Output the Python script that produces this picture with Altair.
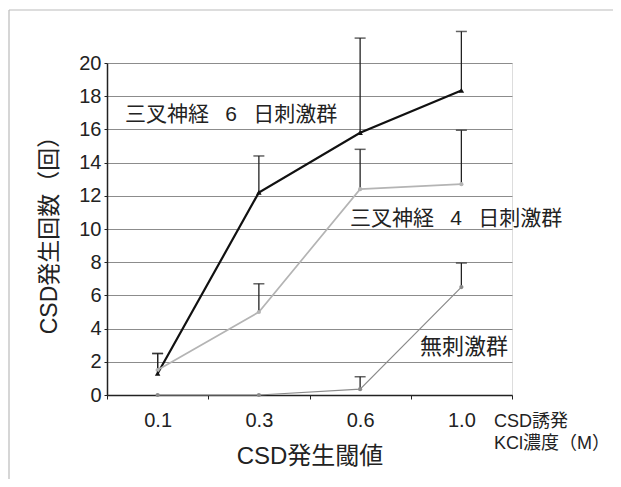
import altair as alt
import pandas as pd

categories = ["0.1", "0.3", "0.6", "1.0"]
series_names = ["三叉神経6日刺激群", "三叉神経4日刺激群", "無刺激群"]
mean_6day = [1.3, 12.2, 15.8, 18.35]
upper_6day = [2.5, 14.4, 21.5, 21.9]
mean_4day = [1.5, 5.0, 12.4, 12.7]
upper_4day = [2.5, 6.7, 14.8, 15.95]
mean_none = [0.0, 0.0, 0.35, 6.5]
upper_none = [None, None, 1.1, 7.95]
y_ticks = list(range(0, 21, 2))

FONT = "Liberation Sans, Noto Sans CJK JP"
SP = "\u2002\u00a0"

rows = []
for name, means, ups in [
    (series_names[0], mean_6day, upper_6day),
    (series_names[1], mean_4day, upper_4day),
    (series_names[2], mean_none, upper_none),
]:
    for c, m, u in zip(categories, means, ups):
        rows.append({"conc": c, "group": name, "mean": m, "upper": u})
df = pd.DataFrame(rows)

color_scale = alt.Scale(domain=series_names, range=["#111111", "#b4b4b4", "#8a8a8a"])
width_scale = alt.Scale(domain=series_names, range=[2.2, 1.2, 2.0])

x_axis = alt.Axis(
    title="CSD発生閾値",
    titleFont=FONT,
    titleFontSize=24,
    titleFontWeight="normal",
    titleColor="#222",
    titlePadding=14,
    labelFont=FONT,
    labelFontSize=20,
    labelColor="#222",
    labelPadding=11,
    labelAngle=0,
    tickBand="extent",
    tickSize=4,
    tickColor="#222",
    domainColor="#222",
    domainWidth=1.5,
    grid=False,
)
x_scale = alt.Scale(type="band", paddingInner=0, paddingOuter=0)


def X():
    return alt.X("conc:N", sort=categories, scale=x_scale, axis=x_axis)


y_scale = alt.Scale(domain=[0, 20], nice=False)
y_axis = alt.Axis(
    title="CSD発生回数（回）",
    titleFont=FONT,
    titleFontSize=23,
    titleFontWeight="normal",
    titleColor="#222",
    titlePadding=17,
    labelFont=FONT,
    labelFontSize=20,
    labelColor="#222",
    labelPadding=3,
    labelOverlap=False,
    values=y_ticks,
    tickCount=11,
    tickSize=3,
    tickColor="#222",
    domainColor="#222",
    domainWidth=1.5,
    grid=True,
    gridColor="#8c8c8c",
    gridWidth=1,
)


def Y(field):
    return alt.Y(field, scale=y_scale, axis=y_axis)


base = alt.Chart(df)

lines = base.mark_line().encode(
    x=X(),
    y=Y("mean:Q"),
    color=alt.Color("group:N", scale=color_scale, legend=None),
    strokeWidth=alt.StrokeWidth("group:N", scale=width_scale, legend=None),
    detail="group:N",
)

err_df = base.transform_filter("datum.upper != null")

err_rules = err_df.mark_rule(color="#222", strokeWidth=1.3).encode(
    x=X(), y=Y("mean:Q"), y2="upper:Q"
)
err_caps = err_df.mark_tick(color="#222", thickness=1.5, size=11).encode(
    x=X(), y=Y("upper:Q")
)

pts_6 = base.transform_filter(alt.datum.group == series_names[0]).mark_point(
    shape="triangle-up", filled=True, size=30, color="#111", opacity=1
).encode(x=X(), y=Y("mean:Q"))
pts_other = base.transform_filter(alt.datum.group != series_names[0]).mark_point(
    shape="circle", filled=True, size=18, opacity=1
).encode(
    x=X(),
    y=Y("mean:Q"),
    color=alt.Color("group:N", scale=color_scale, legend=None),
)

label_df = pd.DataFrame(
    {
        "text": ["三叉神経" + SP + "6" + SP + "日刺激群", "三叉神経" + SP + "4" + SP + "日刺激群"],
        "px": [18, 243],
        "mean": [16.85, 10.6],
    }
)
labels = alt.Chart(label_df).mark_text(
    align="left", baseline="middle", font=FONT, fontSize=21, color="#222"
).encode(x=alt.X("px:Q", scale=None), y=Y("mean:Q"), text="text:N")

label2_df = pd.DataFrame({"text": ["無刺激群"], "px": [313], "mean": [2.9]})
labels2 = alt.Chart(label2_df).mark_text(
    align="left", baseline="middle", font=FONT, fontSize=22, color="#222"
).encode(x=alt.X("px:Q", scale=None), y=Y("mean:Q"), text="text:N")

note_df = pd.DataFrame({"text": ["CSD誘発", "KCl濃度（M）"], "py": [359, 381]})
note = alt.Chart(note_df).mark_text(
    align="left", baseline="middle", font=FONT, fontSize=18, color="#222"
).encode(x=alt.value(387), y=alt.Y("py:Q", scale=None), text="text:N")

frame_top = alt.Chart(pd.DataFrame({"a": [0]})).mark_rule(color="#bbbbbb", strokeWidth=1.2).encode(
    x=alt.value(-98), x2=alt.value(520), y=alt.value(-53)
)
frame_left = alt.Chart(pd.DataFrame({"a": [0]})).mark_rule(color="#bbbbbb", strokeWidth=1.2).encode(
    x=alt.value(-98), y=alt.value(-53), y2=alt.value(420)
)

chart = (
    alt.layer(lines, err_rules, err_caps, pts_other, pts_6, labels, labels2, note, frame_top, frame_left)
    .properties(
        width=405,
        height=332,
        autosize=alt.AutoSizeParams(type="none"),
        padding={"left": 99, "top": 55, "right": 101, "bottom": 84},
    )
    .configure_view(stroke=None, strokeWidth=0)
    .configure(background="white")
)

chart.save("out.html", embed_options={"renderer": "svg", "actions": False})
